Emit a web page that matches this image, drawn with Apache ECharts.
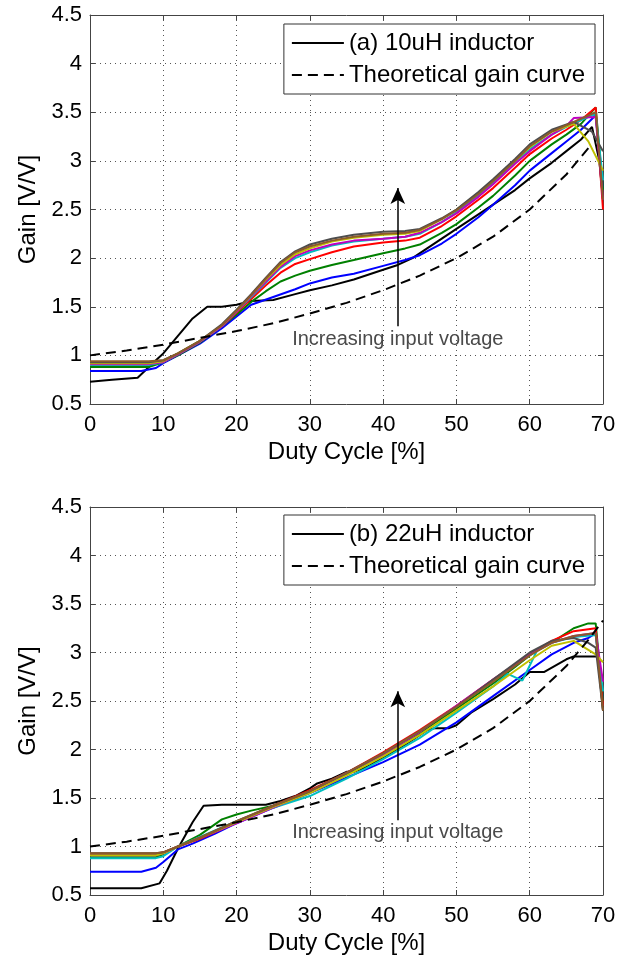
<!DOCTYPE html>
<html>
<head>
<meta charset="utf-8">
<script src="https://cdn.jsdelivr.net/npm/echarts@6/dist/echarts.min.js"></script>
<style>
html,body{margin:0;padding:0;background:#fff;}
#main{width:636px;height:961px;}
</style>
</head>
<body>
<div id="main"></div>
<script>
// ---------- tick values ----------
var xTicks = [0, 10, 20, 30, 40, 50, 60, 70];
var yTicks = [0.5, 1, 1.5, 2, 2.5, 3, 3.5, 4, 4.5];

// ---------- names ----------
var nameA = '(a) 10uH inductor';
var nameB = '(b) 22uH inductor';
var nameTheory = 'Theoretical gain curve';
var annotationText = 'Increasing input voltage';

// ---------- (a) 10uH inductor : [duty %, gain] ----------
var theoryA = [[0,1.0],[5,1.05],[10,1.11],[15,1.18],[20,1.25],[25,1.33],[30,1.43],[35,1.54],[40,1.67],[45,1.82],[50,2.0],[55,2.22],[60,2.5],[65,2.86],[68,3.13]];
var blackA = [[0,0.73],[3,0.75],[6.5,0.77],[9,0.95],[10,1.02],[12,1.2],[14,1.38],[16,1.5],[18,1.5],[20,1.52],[22,1.56],[25,1.57],[28,1.63],[30,1.67],[33,1.72],[36,1.78],[40,1.88],[42,1.93],[44,2.0],[46,2.1],[48,2.2],[50,2.3],[53,2.45],[55,2.55],[58,2.7],[60,2.82],[63,2.98],[65,3.1],[67,3.22],[68.5,3.35],[69.5,3.0],[70,2.6]];
var blueA = [[0,0.84],[7,0.84],[9,0.87],[10,0.92],[12,1.0],[15,1.12],[18,1.28],[20,1.4],[22,1.52],[25,1.6],[28,1.68],[30,1.74],[33,1.8],[36,1.84],[40,1.92],[43,1.98],[45,2.03],[48,2.15],[50,2.25],[53,2.42],[55,2.55],[58,2.75],[60,2.9],[63,3.08],[65,3.2],[67,3.32],[69,3.47],[70,2.7]];
var greenA = [[0,0.88],[8,0.88],[10,0.93],[12,1.0],[15,1.13],[18,1.3],[20,1.42],[22,1.55],[24,1.66],[26,1.76],[28,1.82],[30,1.87],[33,1.93],[36,1.98],[40,2.05],[43,2.1],[45,2.14],[48,2.26],[50,2.35],[53,2.52],[55,2.64],[58,2.85],[60,3.0],[63,3.17],[65,3.27],[67,3.38],[69,3.55],[70,2.7]];
var redA = [[0,0.92],[8,0.92],[10,0.94],[12,1.01],[15,1.14],[18,1.3],[20,1.44],[22,1.58],[24,1.72],[26,1.85],[28,1.94],[30,1.99],[33,2.06],[36,2.12],[40,2.16],[43,2.18],[45,2.21],[48,2.33],[50,2.43],[53,2.6],[55,2.72],[58,2.93],[60,3.07],[63,3.23],[65,3.32],[67,3.42],[69,3.55],[70,2.5]];
var cyanA = [[0,0.9],[8,0.9],[10,0.93],[12,1.01],[15,1.14],[18,1.3],[20,1.45],[22,1.6],[24,1.75],[26,1.9],[28,2.0],[30,2.06],[33,2.13],[36,2.17],[40,2.2],[43,2.22],[45,2.25],[48,2.37],[50,2.47],[53,2.64],[55,2.77],[58,2.98],[60,3.12],[63,3.27],[65,3.35],[67,3.42],[69,3.48],[70,2.8]];
var magentaA = [[0,0.91],[8,0.91],[10,0.93],[12,1.01],[15,1.14],[18,1.3],[20,1.45],[22,1.61],[24,1.76],[26,1.91],[28,2.02],[30,2.08],[33,2.14],[36,2.18],[40,2.2],[43,2.22],[45,2.26],[48,2.37],[50,2.46],[53,2.63],[55,2.76],[58,2.97],[60,3.1],[63,3.27],[65,3.36],[66,3.44],[69,3.45],[70,2.6]];
var yellowA = [[0,0.92],[8,0.92],[10,0.94],[12,1.02],[15,1.15],[18,1.31],[20,1.46],[22,1.62],[24,1.78],[26,1.93],[28,2.04],[30,2.1],[33,2.17],[36,2.21],[40,2.24],[43,2.25],[45,2.28],[48,2.4],[50,2.5],[53,2.67],[55,2.8],[58,3.0],[60,3.14],[63,3.3],[66,3.38],[68,3.2],[70,2.9]];
var grayA = [[0,0.93],[8,0.93],[10,0.95],[12,1.02],[15,1.15],[18,1.32],[20,1.47],[22,1.63],[24,1.8],[26,1.96],[28,2.07],[30,2.14],[33,2.2],[36,2.24],[40,2.27],[43,2.28],[45,2.3],[48,2.41],[50,2.5],[53,2.68],[55,2.81],[58,3.02],[60,3.17],[63,3.32],[66,3.4],[68.5,3.3],[70,3.1]];
var brownA = [[0,0.94],[8,0.94],[10,0.95],[12,1.02],[15,1.15],[18,1.31],[20,1.46],[22,1.62],[24,1.79],[26,1.95],[28,2.06],[30,2.12],[33,2.18],[36,2.22],[40,2.25],[43,2.26],[45,2.29],[48,2.4],[50,2.49],[53,2.66],[55,2.79],[58,3.0],[60,3.15],[63,3.3],[66,3.4],[69,3.5],[70,2.6]];

// ---------- (b) 22uH inductor : [duty %, gain] ----------
var theoryB = [[0,1.0],[5,1.05],[10,1.11],[15,1.18],[20,1.25],[25,1.33],[30,1.43],[35,1.54],[40,1.67],[45,1.82],[50,2.0],[55,2.22],[60,2.5],[65,2.86],[68,3.13],[70,3.33]];
var blackB = [[0,0.57],[7,0.57],[9.5,0.62],[10.5,0.75],[12,0.98],[14,1.25],[15.5,1.42],[18,1.43],[20,1.43],[24,1.43],[26,1.47],[28,1.52],[30,1.6],[31,1.65],[33,1.7],[35,1.77],[36,1.77],[38,1.83],[40,1.92],[43,2.05],[46,2.2],[47,2.22],[49,2.22],[50,2.25],[52,2.38],[55,2.52],[58,2.67],[60,2.8],[62,2.8],[65,2.93],[66,2.96],[69.3,2.96],[70,2.4]];
var blueB = [[0,0.74],[7,0.74],[9,0.78],[10,0.84],[12,0.97],[14,1.03],[17,1.13],[20,1.24],[25,1.4],[30,1.55],[35,1.71],[40,1.87],[45,2.05],[50,2.28],[55,2.55],[60,2.82],[63,2.98],[66,3.1],[68,3.15],[69,3.2],[70,2.5]];
var greenB = [[0,0.89],[9,0.89],[10,0.92],[12,1.0],[15,1.12],[18,1.28],[20,1.33],[22,1.37],[25,1.42],[28,1.5],[30,1.57],[35,1.75],[40,1.95],[45,2.17],[50,2.42],[55,2.68],[58,2.85],[60,2.97],[62,3.07],[64,3.15],[66,3.25],[68,3.3],[69,3.3],[70,2.5]];
var redB = [[0,0.92],[9,0.92],[10,0.94],[12,1.0],[15,1.08],[18,1.18],[20,1.25],[25,1.42],[30,1.58],[35,1.76],[40,1.97],[45,2.2],[50,2.45],[55,2.72],[60,2.98],[63,3.12],[66,3.22],[69,3.25],[70,2.45]];
var cyanB = [[0,0.88],[9,0.88],[10,0.9],[12,1.0],[15,1.1],[20,1.26],[25,1.4],[30,1.52],[35,1.7],[40,1.9],[45,2.12],[50,2.38],[55,2.65],[57,2.78],[59,2.71],[61,3.02],[63,3.1],[66,3.16],[69,3.18],[70,2.6]];
var magentaB = [[0,0.91],[9,0.91],[10,0.93],[12,1.0],[15,1.09],[20,1.24],[25,1.4],[30,1.56],[35,1.76],[40,1.95],[45,2.18],[50,2.45],[55,2.72],[60,2.98],[63,3.1],[66,3.17],[69,3.2],[70,2.7]];
var yellowB = [[0,0.91],[9,0.91],[10,0.93],[12,1.0],[15,1.09],[20,1.25],[25,1.41],[30,1.55],[35,1.73],[40,1.93],[45,2.15],[50,2.4],[55,2.65],[60,2.92],[63,3.07],[66,3.12],[69,2.98],[70,2.9]];
var grayB = [[0,0.93],[9,0.93],[10,0.94],[12,1.0],[15,1.09],[20,1.26],[25,1.42],[30,1.57],[35,1.76],[40,1.96],[45,2.19],[50,2.44],[55,2.72],[60,3.0],[63,3.12],[66,3.15],[68,3.1],[69,3.05],[70,2.4]];
var brownB = [[0,0.93],[9,0.93],[10,0.94],[12,1.0],[15,1.09],[20,1.26],[25,1.42],[30,1.57],[35,1.76],[40,1.96],[45,2.19],[50,2.44],[55,2.7],[60,2.97],[63,3.1],[66,3.17],[69,3.2],[70,2.4]];

// ---------- annotation (duty %, gain) ----------
var arrowA = {x: 42, from: 1.3, to: 2.72, textY: 1.16};
var arrowB = {x: 42, from: 1.27, to: 2.6, textY: 1.14};

// ---------- styles ----------
var FONT = "'Liberation Sans', Arial, Helvetica, sans-serif";
var colorBlack = '#000000';
var curveColors = ['#0000FF', '#008000', '#FF0000', '#00BFBF', '#BF00BF', '#BFBF00', '#4D4D4D', '#8B5A2B'];
var dashPattern = [10, 6];

var chart = echarts.init(document.getElementById('main'), null, {renderer: 'canvas'});

function mainX(gi) {
  return {
    type: 'value', gridIndex: gi, min: xTicks[0], max: xTicks[xTicks.length - 1], interval: xTicks[1] - xTicks[0],
    position: 'bottom',
    name: 'Duty Cycle [%]', nameLocation: 'middle', nameGap: 36,
    nameTextStyle: {fontSize: 24, fontFamily: FONT, color: '#000'},
    axisLine: {show: true, onZero: false, lineStyle: {color: '#444', width: 1}},
    axisTick: {show: true, inside: true, length: 5, lineStyle: {color: '#444'}},
    axisLabel: {fontSize: 22, fontFamily: FONT, color: '#000', margin: 10},
    splitLine: {show: true, lineStyle: {color: '#555', type: [1, 4], width: 1}}
  };
}
function mirrorX(gi) {
  return {
    type: 'value', gridIndex: gi, min: xTicks[0], max: xTicks[xTicks.length - 1], interval: xTicks[1] - xTicks[0],
    position: 'top',
    axisLine: {show: true, onZero: false, lineStyle: {color: '#444', width: 1}},
    axisTick: {show: true, inside: true, length: 5, lineStyle: {color: '#444'}},
    axisLabel: {show: false}, splitLine: {show: false}
  };
}
function mainY(gi) {
  return {
    type: 'value', gridIndex: gi, min: yTicks[0], max: yTicks[yTicks.length - 1], interval: yTicks[1] - yTicks[0],
    position: 'left',
    name: 'Gain [V/V]', nameLocation: 'middle', nameGap: 50,
    nameTextStyle: {fontSize: 24, fontFamily: FONT, color: '#000'},
    axisLine: {show: true, onZero: false, lineStyle: {color: '#444', width: 1}},
    axisTick: {show: true, inside: true, length: 5, lineStyle: {color: '#444'}},
    axisLabel: {fontSize: 22, fontFamily: FONT, color: '#000', margin: 8},
    splitLine: {show: true, lineStyle: {color: '#555', type: [1, 4], width: 1}}
  };
}
function mirrorY(gi) {
  return {
    type: 'value', gridIndex: gi, min: yTicks[0], max: yTicks[yTicks.length - 1], interval: yTicks[1] - yTicks[0],
    position: 'right',
    axisLine: {show: true, onZero: false, lineStyle: {color: '#444', width: 1}},
    axisTick: {show: true, inside: true, length: 5, lineStyle: {color: '#444'}},
    axisLabel: {show: false}, splitLine: {show: false}
  };
}

function lineSeries(name, data, color, axisIdx, extra) {
  var s = {
    name: name, type: 'line', data: data, xAxisIndex: axisIdx, yAxisIndex: axisIdx,
    symbol: 'none', smooth: false, silent: true,
    lineStyle: {color: color, width: 2},
    itemStyle: {color: color}
  };
  if (extra) { for (var k in extra) s[k] = extra[k]; }
  return s;
}

function annotation(arr) {
  return {
    markLine: {
      silent: true, animation: false,
      symbol: ['none', 'arrow'], symbolSize: [11, 16],
      lineStyle: {color: '#000', width: 1.5, type: 'solid'},
      label: {show: false},
      data: [[{coord: [arr.x, arr.from]}, {coord: [arr.x, arr.to]}]]
    },
    markPoint: {
      silent: true, animation: false,
      symbol: 'rect', symbolSize: 1, itemStyle: {color: 'rgba(0,0,0,0)'},
      label: {show: true, position: 'inside', formatter: annotationText, fontSize: 20, fontFamily: FONT, color: '#4a4a4a'},
      data: [{coord: [arr.x, arr.textY]}]
    }
  };
}

var setsA = [blueA, greenA, redA, cyanA, magentaA, yellowA, grayA, brownA];
var setsB = [blueB, greenB, redB, cyanB, magentaB, yellowB, grayB, brownB];

var series = [];
series.push(lineSeries(nameA, blackA, colorBlack, 0));
setsA.forEach(function (d, i) { series.push(lineSeries('a' + i, d, curveColors[i], 0)); });
var thA = lineSeries(nameTheory, theoryA, colorBlack, 0, annotation(arrowA));
thA.lineStyle = {color: colorBlack, width: 2, type: dashPattern};
series.push(thA);

series.push(lineSeries(nameB, blackB, colorBlack, 2));
setsB.forEach(function (d, i) { series.push(lineSeries('b' + i, d, curveColors[i], 2)); });
var thB = lineSeries(nameTheory, theoryB, colorBlack, 2, annotation(arrowB));
thB.lineStyle = {color: colorBlack, width: 2, type: dashPattern};
series.push(thB);

function legendFor(name, top) {
  return {
    show: true, orient: 'vertical', right: 41, top: top,
    data: [name, nameTheory],
    selectedMode: false,
    backgroundColor: '#fff', borderColor: '#333', borderWidth: 1, borderRadius: 0,
    padding: [7, 10, 7, 7], itemGap: 8, itemWidth: 52, itemHeight: 14,
    itemStyle: {color: 'rgba(0,0,0,0)', borderWidth: 0, opacity: 0},
    textStyle: {fontSize: 24, fontFamily: FONT, color: '#000'}
  };
}

var option = {
  animation: false,
  backgroundColor: '#fff',
  textStyle: {fontFamily: FONT},
  grid: [
    {left: 90, top: 15, width: 513, height: 389, show: false},
    {left: 90, top: 507, width: 513, height: 388, show: false}
  ],
  xAxis: [mainX(0), mirrorX(0), mainX(1), mirrorX(1)],
  yAxis: [mainY(0), mirrorY(0), mainY(1), mirrorY(1)],
  legend: [legendFor(nameA, 24), legendFor(nameB, 515)],
  series: series
};
chart.setOption(option);
</script>
</body>
</html>
